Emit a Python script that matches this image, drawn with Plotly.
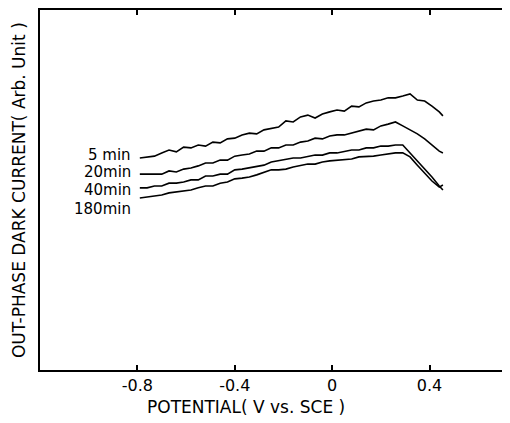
import plotly.graph_objects as go

# Potential (V vs. SCE) sample positions
potential = [-0.79, -0.76, -0.73, -0.70, -0.67, -0.64, -0.61, -0.58, -0.55, -0.52,
             -0.49, -0.46, -0.43, -0.40, -0.37, -0.34, -0.31, -0.28, -0.25, -0.22,
             -0.19, -0.16, -0.13, -0.10, -0.07, -0.04, -0.01, 0.02, 0.05, 0.08,
             0.11, 0.14, 0.17, 0.20, 0.23, 0.26, 0.29, 0.32, 0.35, 0.38,
             0.41, 0.44, 0.455]

current_5min = [5.89, 5.92, 5.94, 6.03, 6.11, 6.06, 6.19, 6.17, 6.25, 6.22,
                6.33, 6.31, 6.42, 6.44, 6.53, 6.58, 6.56, 6.67, 6.72, 6.75,
                6.92, 6.89, 7.03, 7.08, 7.00, 7.11, 7.17, 7.22, 7.19, 7.33,
                7.31, 7.42, 7.47, 7.50, 7.56, 7.56, 7.61, 7.67, 7.50, 7.47,
                7.33, 7.17, 7.06]

current_20min = [5.44, 5.44, 5.42, 5.44, 5.53, 5.50, 5.58, 5.61, 5.67, 5.75,
                 5.75, 5.83, 5.83, 5.94, 5.97, 6.00, 6.08, 6.08, 6.17, 6.17,
                 6.25, 6.25, 6.33, 6.36, 6.44, 6.42, 6.50, 6.53, 6.53, 6.58,
                 6.64, 6.69, 6.67, 6.78, 6.83, 6.89, 6.78, 6.67, 6.56, 6.42,
                 6.25, 6.08, 6.03]

current_40min = [5.06, 5.06, 5.11, 5.11, 5.19, 5.19, 5.22, 5.28, 5.28, 5.39,
                 5.39, 5.44, 5.44, 5.56, 5.58, 5.61, 5.64, 5.69, 5.78, 5.81,
                 5.86, 5.89, 5.89, 5.92, 5.97, 5.97, 6.03, 6.03, 6.08, 6.11,
                 6.11, 6.17, 6.17, 6.22, 6.22, 6.25, 6.25, 6.03, 5.81, 5.61,
                 5.36, 5.11, 5.00]

current_180min = [4.78, 4.81, 4.83, 4.86, 4.92, 4.94, 4.97, 5.00, 5.06, 5.11,
                  5.11, 5.19, 5.22, 5.31, 5.33, 5.36, 5.42, 5.50, 5.56, 5.56,
                  5.58, 5.64, 5.69, 5.72, 5.72, 5.78, 5.81, 5.83, 5.86, 5.86,
                  5.92, 5.92, 5.94, 5.97, 6.00, 6.03, 6.03, 5.92, 5.69, 5.47,
                  5.25, 5.08, 5.14]

series_labels = ["5 min", "20min", "40min", "180min"]
label_y = [5.97, 5.49, 4.99, 4.48]
label_x = -0.82

tick_vals = [-0.8, -0.4, 0, 0.4]
tick_text = ["-0.8", "-0.4", "0", "0.4"]

x_title = "POTENTIAL( V vs. SCE )"
y_title = "OUT-PHASE DARK CURRENT( Arb. Unit )"

FONT = "DejaVu Sans, Liberation Sans, sans-serif"
FS = 16

fig = go.Figure()
for name, ys in zip(series_labels,
                    [current_5min, current_20min, current_40min, current_180min]):
    fig.add_trace(go.Scatter(x=potential, y=ys, mode="lines", name=name,
                             line=dict(color="black", width=1.6),
                             showlegend=False))

for lab, ly in zip(series_labels, label_y):
    fig.add_annotation(x=label_x, y=ly, text=lab, showarrow=False,
                       xanchor="right", yanchor="middle",
                       font=dict(family=FONT, size=15, color="black"))

fig.add_annotation(xref="paper", yref="paper", x=0.443, y=-0.103, text=x_title,
                   showarrow=False, xanchor="center", yanchor="middle",
                   font=dict(family=FONT, size=17, color="black"))
fig.add_annotation(xref="paper", yref="paper", x=-0.045, y=0.5, text=y_title,
                   showarrow=False, xanchor="center", yanchor="middle",
                   textangle=-90,
                   font=dict(family=FONT, size=17, color="black"))

# page body has an 8px default margin; size the figure to fit the window
fig.update_layout(
    width=502, height=415,
    margin=dict(l=32, r=5, t=2, b=53),
    paper_bgcolor="white", plot_bgcolor="white",
    font=dict(family=FONT, color="black"),
)
fig.update_xaxes(range=[-1.2, 0.71], tickvals=tick_vals, ticktext=tick_text,
                 ticks="inside", ticklen=5, tickwidth=1.5, tickcolor="black",
                 showline=True, linecolor="black", linewidth=1.8, mirror="ticks",
                 showgrid=False, zeroline=False, automargin=False,
                 ticklabelstandoff=0,
                 tickfont=dict(family=FONT, size=FS))
fig.update_yaxes(range=[0, 10], showticklabels=False, ticks="",
                 showline=True, linecolor="black", linewidth=1.8, mirror=True,
                 showgrid=False, zeroline=False, automargin=False)

fig.write_html("out.html")
